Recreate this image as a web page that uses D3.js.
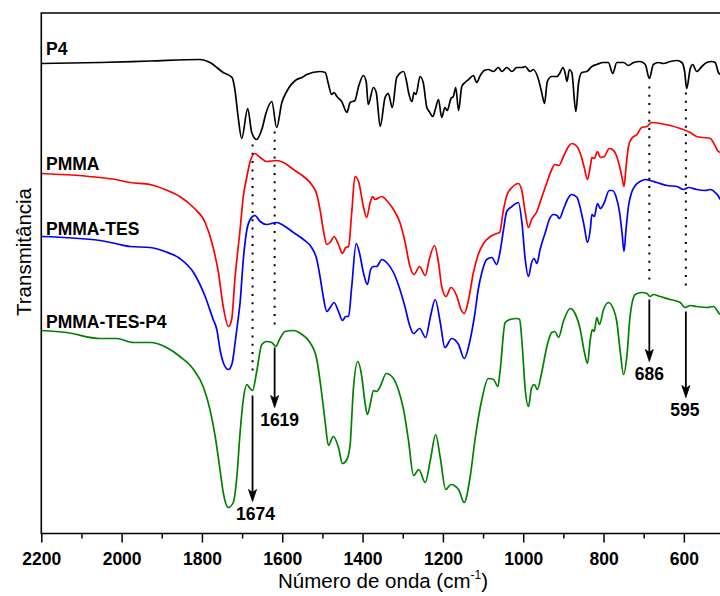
<!DOCTYPE html>
<html>
<head>
<meta charset="utf-8">
<script src="https://cdn.jsdelivr.net/npm/d3@7"></script>
<style>
  html, body { margin: 0; padding: 0; background: #fff; }
  svg { display: block; }
  text { font-family: "Liberation Sans", Arial, sans-serif; }
</style>
</head>
<body>
<svg id="chart" width="720" height="596"></svg>
<script>
// ---------- DATA (wavenumber cm^-1, transmittance in arbitrary offset units) ----------
const seriesNames = ["P4", "PMMA", "PMMA-TES", "PMMA-TES-P4"];
const seriesColors = ["#000000", "#ff0000", "#0000ff", "#008000"];

const p4Wave = [2200,2054,1929,1805,1780,1747,1725,1718,1710,1701,1686,1676,1664,1651,1640,1626,1614,1601,1589,1564,1551,1539,1506,1493,1486,1477,1471,1464,1452,1439,1431,1419,1410,1398,1391,1386,1373,1366,1356,1344,1336,1326,1315,1298,1290,1286,1277,1272,1267,1257,1249,1240,1234,1225,1219,1211,1203,1195,1189,1180,1174,1168,1161,1153,1145,1136,1124,1116,1107,1097,1087,1074,1062,1053,1041,1028,1016,1003,995,983,975,962,954,947,940,929,916,908,901,896,891,885,879,869,862,854,842,829,817,800,788,777,767,750,738,725,709,696,686,676,663,651,634,617,605,598,593,584,578,568,555,543,530,522,514,510];
const p4T    = [470,471,472.5,474,471,461,456,444,417,395,425,401,394,404,421,432,406,431,442,454,456,459,462,461,451,439,441,437,432,421,431,433,447,458,452,429,446,441,407,436,440,426,456,462,451,442,432,441,439,457,451,426,422,417,424,434,416,426,423,435,437,446,423,447,451,454,458,451,458,463,464,462,466,462,466,462,466,466,467,462,464,454,441,430,452,457,457,461,466,461,452,464,461,422,451,461,462,467,469,471,471,460,471,471,468,471,472,469,455,469,471,470,472,473,471,462,445,465,469,462,467,471,472,471,461,459];

const pmmaWave = [2200,2054,2016,1979,1929,1892,1855,1821,1792,1772,1759,1747,1734,1726,1718,1705,1697,1688,1680,1668,1655,1639,1614,1597,1572,1547,1527,1514,1506,1498,1489,1479,1471,1460,1450,1442,1435,1427,1419,1410,1398,1390,1381,1375,1369,1352,1340,1323,1307,1294,1282,1272,1258,1244,1234,1221,1211,1203,1192,1180,1165,1155,1147,1136,1124,1112,1099,1082,1066,1059,1049,1041,1028,1012,1003,995,987,979,966,954,941,929,921,911,900,887,879,866,857,848,840,833,829,823,815,808,798,786,778,769,760,754,749,744,738,730,717,705,692,680,659,634,609,584,568,551,534,524,514,510];
const pmmaT    = [360,356,354,351,349,344,337,326,311,286,261,227,207,214,254,304,337,357,372,380,376,372,373,371,364,357,349,339,324,304,289,292,297,289,280,286,287,321,357,352,327,316,331,337,334,337,333,324,311,291,267,259,267,258,274,288,271,247,237,246,237,224,220,234,261,279,290,297,300,301,324,338,346,350,342,321,306,314,322,336,351,364,369,368,377,387,390,387,379,366,354,367,376,375,382,376,377,385,384,379,367,356,347,366,387,395,399,406,407,411,410,408,405,401,397,396,395,389,382,381];

const tesWave = [2200,2054,2016,1979,1929,1892,1855,1821,1792,1772,1763,1755,1745,1734,1725,1718,1710,1705,1697,1688,1680,1668,1655,1639,1614,1597,1572,1547,1527,1514,1506,1498,1489,1479,1471,1460,1450,1442,1435,1427,1416,1408,1398,1388,1380,1373,1365,1352,1340,1323,1307,1294,1282,1273,1258,1243,1231,1219,1207,1195,1178,1161,1147,1132,1120,1112,1103,1091,1078,1066,1058,1049,1041,1028,1012,1003,995,987,979,973,966,958,945,935,925,916,910,900,890,879,866,857,848,840,833,829,823,815,808,798,786,778,769,760,754,749,744,738,730,721,709,696,684,667,642,617,601,588,568,547,534,522,511,510];
const tesT    = [297,293,290,287,286,282,275,261,237,214,204,184,169,164,170,189,214,231,274,304,314,318,312,309,311,308,301,294,286,274,257,237,222,227,231,222,213,217,217,247,290,281,261,249,264,267,267,274,271,261,244,226,207,200,205,196,217,234,212,186,195,189,175,194,221,244,261,274,276,269,281,304,322,327,331,310,274,257,271,275,270,284,301,314,319,318,315,324,334,339,336,324,307,291,304,319,317,330,325,331,343,343,337,321,301,282,304,327,341,348,352,354,353,351,348,347,344,346,344,343,344,341,335,334];

const tesP4Wave = [2200,2137,2054,2012,1971,1929,1888,1855,1821,1796,1780,1767,1755,1747,1734,1722,1713,1705,1697,1688,1682,1674,1664,1651,1639,1626,1616,1607,1593,1572,1551,1531,1514,1504,1493,1485,1473,1460,1450,1439,1431,1423,1412,1402,1394,1388,1380,1373,1365,1356,1341,1325,1311,1298,1286,1273,1260,1244,1231,1218,1207,1193,1180,1161,1147,1132,1120,1103,1087,1074,1063,1058,1045,1033,1016,1009,1003,995,987,979,972,965,954,941,929,921,912,900,883,871,858,848,840,833,828,823,817,810,800,788,775,767,759,750,742,734,721,705,692,684,676,659,634,609,597,584,568,543,526,514,510];
const tesP4T    = [203,201,195,195,191,191,186,177,164,146,124,97,64,41,26,31,57,101,134,149,146,143,161,189,192,191,187,194,202,203,199,191,174,147,111,88,97,86,70,74,89,144,172,157,131,119,131,143,142,147,160,156,144,124,94,58,64,51,74,99,77,44,49,44,31,57,94,134,155,154,147,161,211,214,215,214,191,144,127,146,149,144,161,187,201,202,196,212,225,220,204,182,170,194,204,202,216,209,224,231,224,212,184,159,177,217,239,241,240,237,239,237,234,231,226,228,227,226,227,221,219];

const majorTicks = [2200, 2000, 1800, 1600, 1400, 1200, 1000, 800, 600];
const minorTicks = [2100, 1900, 1700, 1500, 1300, 1100, 900, 700];

// annotations: band position, dotted guide (from T to T), arrow (from T to T)
const bandLabels = ["1674", "1619", "686", "595"];
const bandWave   = [1674, 1619, 686, 595];
const guideTop   = [389, 402, 447, 441];
const guideBot   = [157, 207, 249, 242];
const arrowTop   = [138, 186, 234, 222];
const arrowTip   = [32, 126, 172, 136];

// ---------- CHART ----------
const svg = d3.select("#chart");
const W = 720, H = 596;
const mLeft = 41.3, mRight = 720, mTop = 13, mBottom = 533.5;

svg.append("rect").attr("width", W).attr("height", H).attr("fill", "#fff");

const x = d3.scaleLinear().domain([2200, 510]).range([mLeft, mRight]);
const y = d3.scaleLinear().domain([0, 520.5]).range([mBottom, mTop]);

const seriesData = [
  d3.zip(p4Wave, p4T),
  d3.zip(pmmaWave, pmmaT),
  d3.zip(tesWave, tesT),
  d3.zip(tesP4Wave, tesP4T)
];

svg.append("clipPath").attr("id", "clip")
  .append("rect").attr("x", mLeft).attr("y", mTop).attr("width", mRight - mLeft).attr("height", mBottom - mTop);

const line = d3.line()
  .x(d => x(d[0]))
  .y(d => y(d[1]))
  .curve(d3.curveMonotoneX);

const g = svg.append("g").attr("clip-path", "url(#clip)");

// dotted guides
bandWave.forEach((w, i) => {
  g.append("line")
    .attr("x1", x(w)).attr("x2", x(w))
    .attr("y1", y(guideTop[i])).attr("y2", y(guideBot[i]))
    .attr("stroke", "#000").attr("stroke-width", 2)
    .attr("stroke-dasharray", "2,6.3");
});

seriesData.forEach((d, i) => {
  g.append("path")
    .datum(d)
    .attr("fill", "none")
    .attr("stroke", seriesColors[i])
    .attr("stroke-width", 1.7)
    .attr("stroke-linejoin", "round")
    .attr("d", line);
});

// arrows
bandWave.forEach((w, i) => {
  const axp = x(w), y0 = y(arrowTop[i]), y1 = y(arrowTip[i]);
  svg.append("line")
    .attr("x1", axp).attr("x2", axp)
    .attr("y1", y0).attr("y2", y1 - 6)
    .attr("stroke", "#000").attr("stroke-width", 1.8);
  svg.append("path")
    .attr("d", `M${axp},${y1} L${axp - 4},${y1 - 12} L${axp},${y1 - 9} L${axp + 4},${y1 - 12} Z`)
    .attr("fill", "#000").attr("stroke", "#000").attr("stroke-width", 0.8);
});

const labelDx = [3, 5, 0, -1];
bandLabels.forEach((t, i) => {
  svg.append("text")
    .attr("x", x(bandWave[i]) + labelDx[i])
    .attr("y", y(arrowTip[i]) + 18)
    .attr("text-anchor", "middle")
    .attr("font-size", 17.5)
    .attr("font-weight", "bold")
    .attr("fill", "#000")
    .text(t);
});

// series labels
const labelY = [55, 170, 235, 328];
seriesNames.forEach((n, i) => {
  svg.append("text")
    .attr("x", 46)
    .attr("y", labelY[i])
    .attr("font-size", 17.5)
    .attr("font-weight", "bold")
    .attr("fill", "#000")
    .text(n);
});

// axes
const xAxis = d3.axisBottom(x).tickValues(majorTicks).tickSize(9).tickPadding(10).tickFormat(d3.format("d"));
const xMinor = d3.axisBottom(x).tickValues(minorTicks).tickSize(5).tickFormat("");

const axG = svg.append("g").attr("transform", `translate(0,${mBottom})`).call(xAxis);
axG.select(".domain").remove();
axG.selectAll(".tick line").attr("stroke", "#000").attr("stroke-width", 1.5);
axG.selectAll(".tick text")
  .attr("font-family", "'Liberation Sans', Arial, sans-serif")
  .attr("font-size", 17.5).attr("font-weight", "bold").attr("fill", "#000");

const amG = svg.append("g").attr("transform", `translate(0,${mBottom})`).call(xMinor);
amG.select(".domain").remove();
amG.selectAll(".tick line").attr("stroke", "#000").attr("stroke-width", 1.5);

// frame
svg.append("path")
  .attr("d", `M${mRight},${mTop} H${mLeft} V${mBottom} H${mRight}`)
  .attr("fill", "none").attr("stroke", "#000").attr("stroke-width", 1.6);

// axis titles
const xt = svg.append("text")
  .attr("x", 383).attr("y", 588)
  .attr("text-anchor", "middle")
  .attr("font-size", 20.5)
  .attr("fill", "#000");
xt.append("tspan").text("Número de onda (cm");
xt.append("tspan").attr("font-size", 12).attr("dy", -9).text("-1");
xt.append("tspan").attr("dy", 9).text(")");

svg.append("text")
  .attr("transform", "translate(31,252) rotate(-90)")
  .attr("text-anchor", "middle")
  .attr("font-size", 20.5)
  .attr("fill", "#000")
  .text("Transmitância");
</script>
</body>
</html>
